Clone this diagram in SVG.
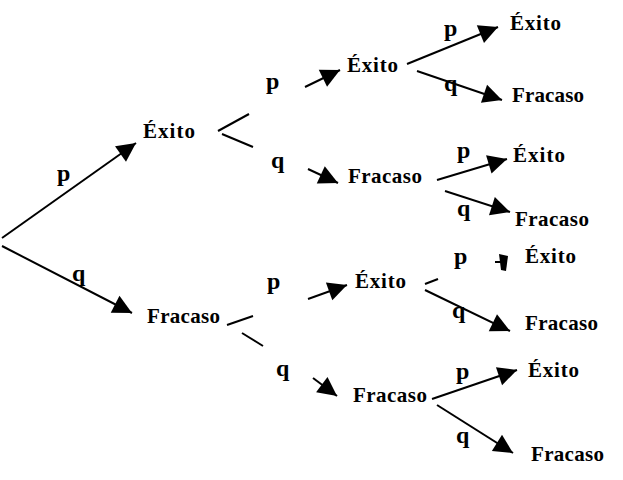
<svg xmlns="http://www.w3.org/2000/svg" width="623" height="480" viewBox="0 0 623 480">
<style>
.n{font-family:"Liberation Serif","Times New Roman",serif;font-weight:bold;font-size:21px;fill:#000}
.l{font-family:"Liberation Serif","Times New Roman",serif;font-weight:bold;font-size:24px;fill:#000}
.c line{stroke:#000;stroke-width:2;fill:none}
.c line.a{marker-end:url(#ah)}
</style>
<defs>
<marker id="ah" markerUnits="userSpaceOnUse" markerWidth="21" markerHeight="20" viewBox="-20 -10 21 20" refX="0" refY="0" orient="auto"><path d="M0,0 L-19,-9.5 L-19,9.5 Z" fill="#000"/></marker>
</defs>
<rect width="623" height="480" fill="#fff"/>
<g id="connectors" class="c">
<line class="a" x1="2" y1="238" x2="136" y2="143"/>
<line class="a" x1="2" y1="246" x2="132" y2="313"/>
<line x1="218" y1="131" x2="249" y2="114"/>
<line class="a" x1="305" y1="87" x2="340" y2="70"/>
<line x1="222" y1="134" x2="253" y2="147"/>
<line class="a" x1="308" y1="169" x2="338" y2="183"/>
<line class="a" x1="407" y1="64" x2="498" y2="27"/>
<line class="a" x1="417" y1="71" x2="502" y2="100"/>
<line class="a" x1="437" y1="180" x2="507" y2="159"/>
<line class="a" x1="445" y1="191" x2="510" y2="212"/>
<line x1="227" y1="325" x2="253" y2="316"/>
<line class="a" x1="308" y1="299" x2="347" y2="285"/>
<line x1="242" y1="333" x2="263" y2="346"/>
<line class="a" x1="313" y1="378" x2="337" y2="396"/>
<line x1="425" y1="284" x2="438" y2="279"/>
<line x1="495" y1="262" x2="502" y2="262"/>
<polygon points="499,254 508,256 506,271 501,270" fill="#000"/>
<line class="a" x1="425" y1="290" x2="510" y2="331"/>
<line class="a" x1="432" y1="399" x2="517" y2="370"/>
<line class="a" x1="437" y1="405" x2="513" y2="453"/>
</g>
<g id="edge-labels">
<text class="l" x="57" y="181">p</text>
<text class="l" x="72" y="281">q</text>
<text class="l" x="266" y="89">p</text>
<text class="l" x="271" y="168">q</text>
<text class="l" x="444" y="36">p</text>
<text class="l" x="444" y="91">q</text>
<text class="l" x="457" y="158">p</text>
<text class="l" x="457" y="216">q</text>
<text class="l" x="267" y="289">p</text>
<text class="l" x="276" y="376">q</text>
<text class="l" x="454" y="264">p</text>
<text class="l" x="452" y="318">q</text>
<text class="l" x="456" y="379">p</text>
<text class="l" x="456" y="443">q</text>
</g>
<g id="n-exito-1"><text class="n" x="143" y="138" textLength="52">Éxito</text></g>
<g id="n-fracaso-1"><text class="n" x="147" y="323" textLength="73">Fracaso</text></g>
<g id="n-exito-2a"><text class="n" x="347" y="72" textLength="51">Éxito</text></g>
<g id="n-fracaso-2b"><text class="n" x="348" y="183" textLength="74">Fracaso</text></g>
<g id="n-exito-2c"><text class="n" x="355" y="288" textLength="51">Éxito</text></g>
<g id="n-fracaso-2d"><text class="n" x="353" y="402" textLength="74">Fracaso</text></g>
<g id="n-exito-3a"><text class="n" x="510" y="30" textLength="51">Éxito</text></g>
<g id="n-fracaso-3b"><text class="n" x="512" y="102" textLength="72">Fracaso</text></g>
<g id="n-exito-3c"><text class="n" x="513" y="162" textLength="52">Éxito</text></g>
<g id="n-fracaso-3d"><text class="n" x="515" y="226" textLength="74">Fracaso</text></g>
<g id="n-exito-3e"><text class="n" x="525" y="263" textLength="51">Éxito</text></g>
<g id="n-fracaso-3f"><text class="n" x="525" y="330" textLength="73">Fracaso</text></g>
<g id="n-exito-3g"><text class="n" x="528" y="377" textLength="51">Éxito</text></g>
<g id="n-fracaso-3h"><text class="n" x="531" y="461" textLength="73">Fracaso</text></g>
</svg>
